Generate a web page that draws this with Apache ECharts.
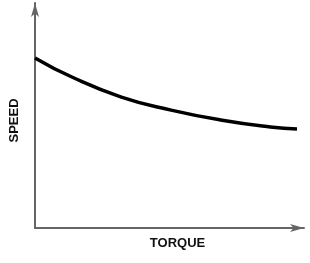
<!DOCTYPE html>
<html>
<head>
<meta charset="utf-8">
<script src="https://cdn.jsdelivr.net/npm/echarts@6/dist/echarts.min.js"></script>
<style>
  html, body { margin: 0; padding: 0; background: #fff; }
  #chart { width: 310px; height: 263px; }
</style>
</head>
<body>
<div id="chart"></div>
<script>
// torque (x) vs speed (y) on a 0..100 scale
const torque = [0, 13.7, 32.1, 50.6, 69, 87.5, 97.4];
const speed = [75.6, 67.1, 58.2, 52.4, 48, 44.9, 44];

const chart = echarts.init(document.getElementById("chart"));

const axisLine = {
  show: true,
  symbol: ["none", "arrow"],
  symbolSize: [6, 14],
  lineStyle: { color: "#666", width: 2 },
};
const nameStyle = {
  color: "#111",
  fontFamily: "Liberation Sans",
  fontWeight: "bold",
  fontSize: 13,
};

chart.setOption({
  animation: false,
  grid: { left: 33, right: 6, top: 3, bottom: 35 },
  xAxis: {
    type: "value",
    min: 0,
    max: 100,
    name: "TORQUE",
    nameLocation: "middle",
    nameGap: 9,
    nameTextStyle: Object.assign({ padding: [0, 0, 0, 16] }, nameStyle),
    axisLine: axisLine,
    axisTick: { show: false },
    axisLabel: { show: false },
    splitLine: { show: false },
  },
  yAxis: {
    type: "value",
    min: 0,
    max: 100,
    name: "SPEED",
    nameLocation: "middle",
    nameGap: 14,
    nameTextStyle: Object.assign({ padding: [0, 10, 0, 0] }, nameStyle),
    axisLine: axisLine,
    axisTick: { show: false },
    axisLabel: { show: false },
    splitLine: { show: false },
  },
  series: [
    {
      type: "line",
      smooth: true,
      symbol: "none",
      lineStyle: { color: "#000", width: 3.5 },
      data: torque.map((t, i) => [t, speed[i]]),
    },
  ],
});
</script>
</body>
</html>
